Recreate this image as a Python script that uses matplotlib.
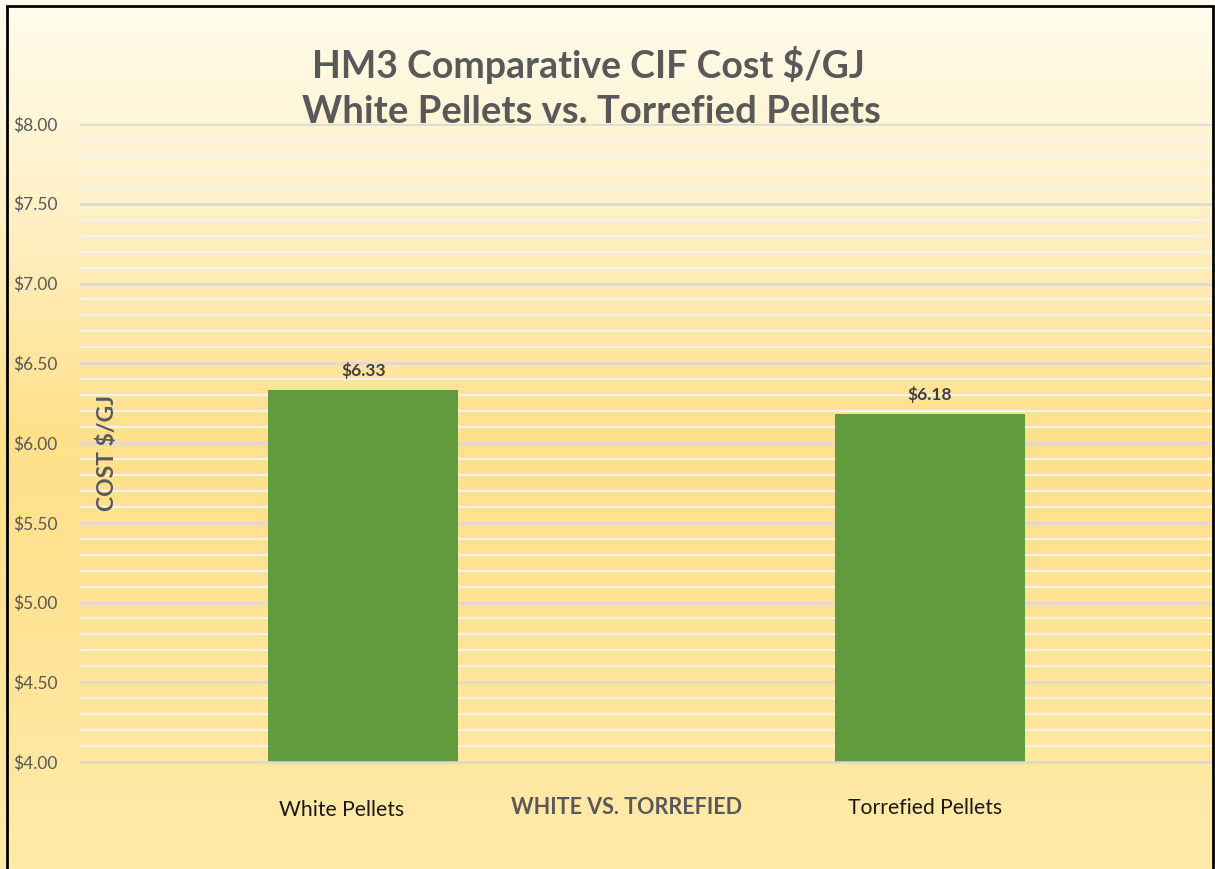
import numpy as np
import matplotlib
matplotlib.use("Agg")
import matplotlib.pyplot as plt
from matplotlib.colors import LinearSegmentedColormap
from matplotlib.patches import Rectangle

# Chart data
categories = ["White Pellets", "Torrefied Pellets"]
costs = [6.33, 6.18]
value_labels = ["$6.33", "$6.18"]
y_ticks = [4.0, 4.5, 5.0, 5.5, 6.0, 6.5, 7.0, 7.5, 8.0]

plt.rcParams["font.family"] = ["Lato", "DejaVu Sans"]
grey = "#595959"

fig = plt.figure(figsize=(12.15, 8.69), dpi=100)

# Background gradient (cream at top, warm yellow in the middle)
bg = fig.add_axes([0, 0, 1, 1], zorder=-10)
cmap = LinearSegmentedColormap.from_list(
    "bg", [(0.0, "#FFFCEE"), (0.25, "#FFF0C4"), (0.5, "#FFE08A"),
           (0.7, "#FFE394"), (1.0, "#FFEBAA")])
grad = np.linspace(0, 1, 256).reshape(-1, 1)
bg.imshow(grad, aspect="auto", cmap=cmap, extent=[0, 1, 0, 1], origin="upper")
bg.set_xlim(0, 1)
bg.set_ylim(0, 1)
bg.axis("off")

ax = fig.add_axes([80 / 1215, 1 - 762 / 869, 1133 / 1215, (762 - 124) / 869])
ax.patch.set_alpha(0)

x = np.arange(len(categories))
ax.bar(x, costs, width=0.335, color="#629B3E", zorder=3)
ax.set_xlim(-0.5, 1.5)
ax.set_ylim(4, 8)

ax.set_yticks(y_ticks)
ax.set_yticklabels([f"${v:.2f}" for v in y_ticks], color=grey, fontsize=12.5)
ax.set_yticks(np.arange(4.0, 8.01, 0.1), minor=True)
ax.tick_params(axis="y", which="both", length=0, pad=16)
ax.set_xticks([])
ax.grid(True, axis="y", which="minor", color="#F2F2F2", linewidth=1.6, zorder=1)
ax.grid(True, axis="y", which="major", color="#D9D9D9", linewidth=1.8, zorder=1)
ax.axhline(4.0, color="#D9D9D9", linewidth=1.8, zorder=4, clip_on=False)
for s in ax.spines.values():
    s.set_visible(False)

for xi, c, lab in zip(x, costs, value_labels):
    ax.annotate(lab, (xi, c), xytext=(0, 14), textcoords="offset points",
                ha="center", va="center", fontsize=12.5, fontweight="bold",
                color="#404040")

# Title
fig.text(588 / 1215, 1 - 65 / 869, "HM3 Comparative CIF Cost $/GJ",
         ha="center", va="center", fontsize=27, fontweight="bold", color=grey)
fig.text(591 / 1215, 1 - 112 / 869, "White Pellets vs. Torrefied Pellets",
         ha="center", va="center", fontsize=27.5, fontweight="bold", color=grey)

# Category labels and axis titles
fig.text(342 / 1215, 1 - 810 / 869, "White Pellets", ha="center", va="center",
         fontsize=15.2, color="#1A1A1A")
fig.text(925 / 1215, 1 - 808 / 869, "Torrefied Pellets", ha="center", va="center",
         fontsize=15.2, color="#1A1A1A")
fig.text(627 / 1215, 1 - 808 / 869, "WHITE VS. TORREFIED", ha="center", va="center",
         fontsize=15.5, fontweight="bold", color=grey)
fig.text(107 / 1215, 1 - 453 / 869, "COST $/GJ", ha="center", va="center",
         rotation=90, fontsize=16.5, fontweight="bold", color=grey)

# Chart border
fig.patches.append(Rectangle((7 / 1215, -0.05), 1206 / 1215, 1.05 - 6 / 869,
                             transform=fig.transFigure, fill=False,
                             edgecolor="black", linewidth=2, zorder=20))

fig.savefig("out.png", dpi=100)
plt.close(fig)
